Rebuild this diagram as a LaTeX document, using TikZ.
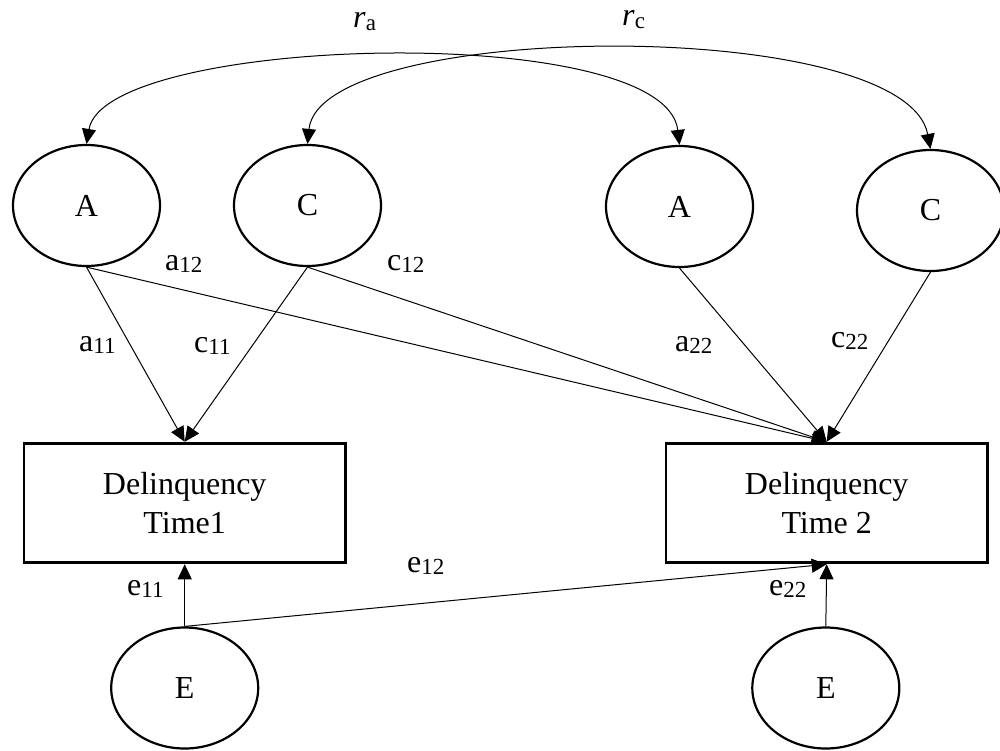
\documentclass[tikz,border=0pt]{standalone}
\usepackage{fontspec}
\setmainfont{Liberation Serif}
\usetikzlibrary{shapes.geometric,arrows.meta}

% coefficient label: main letter with a smaller, slightly lowered index
\newcommand{\coef}[2]{#1\raisebox{-2pt}{\fontsize{23}{23}\selectfont #2}}
\newcommand{\corr}[1]{\textit{r}\raisebox{-3pt}{\fontsize{23}{23}\selectfont #1}}

\tikzset{
  latent/.style={draw, ellipse, line width=2.2pt, minimum width=147pt,
    minimum height=121pt, inner sep=0pt, font=\fontsize{32}{39}\selectfont},
  observed/.style={draw, rectangle, line width=2.8pt, minimum width=321.5pt,
    minimum height=119.7pt, inner sep=0pt, align=center,
    font=\fontsize{32}{39}\selectfont},
  path/.style={line width=1pt, -{Triangle[length=15pt,width=14pt]}},
  covpath/.style={line width=1pt,
    {Triangle[length=15pt,width=14pt]}-{Triangle[length=15pt,width=14pt]}},
  coeflabel/.style={anchor=base west, inner sep=0pt,
    font=\fontsize{32}{39}\selectfont}
}

\begin{document}
\begin{tikzpicture}[x=1pt, y=-1pt]
  \useasboundingbox (0,0) rectangle (1000,750);

  % latent factors, time 1 and time 2
  \node[latent] (A1) at (86.5,205.5) {A};
  \node[latent] (C1) at (307.5,205.5) {C};
  \node[latent] (A2) at (679.5,206.5) {A};
  \node[latent] (C2) at (930.5,210.5) {C};
  \node[latent] (E1) at (184.7,688) {E};
  \node[latent] (E2) at (825.8,688) {E};

  % observed measures
  \node[observed] (D1) at (184.7,503) {Delinquency\\Time1};
  \node[observed] (D2) at (826.7,503) {Delinquency\\Time 2};

  % correlations between the factors across time
  \draw[covpath] (A1.north) .. controls (105,35) and (665,20) .. (A2.north);
  \draw[covpath] (C1.north) .. controls (320,20) and (905,15) .. (C2.north);

  % factor loadings
  \draw[path] (A1.south) -- (D1.north);
  \draw[path] (C1.south) -- (D1.north);
  \draw[path] (A1.south) -- (D2.north);
  \draw[path] (C1.south) -- (D2.north);
  \draw[path] (A2.south) -- (D2.north);
  \draw[path] (C2.south) -- (D2.north);
  \draw[path] (E1.north) -- (D1.south);
  \draw[path] (E1.north) -- (D2.south);
  \draw[path] (E2.north) -- (D2.south);

  % path labels
  \node[coeflabel] (lra) at (353,27) {\corr{a}};
  \node[coeflabel] (lrc) at (622,25) {\corr{c}};
  \node[coeflabel] (la12) at (165,270) {\coef{a}{12}};
  \node[coeflabel] (lc12) at (387,270) {\coef{c}{12}};
  \node[coeflabel] (la11) at (79,351) {\coef{a}{11}};
  \node[coeflabel] (lc11) at (194,352) {\coef{c}{11}};
  \node[coeflabel] (la22) at (675,351) {\coef{a}{22}};
  \node[coeflabel] (lc22) at (831,347) {\coef{c}{22}};
  \node[coeflabel] (le12) at (407,572) {\coef{e}{12}};
  \node[coeflabel] (le11) at (127,595) {\coef{e}{11}};
  \node[coeflabel] (le22) at (769,595) {\coef{e}{22}};
\end{tikzpicture}
\end{document}
